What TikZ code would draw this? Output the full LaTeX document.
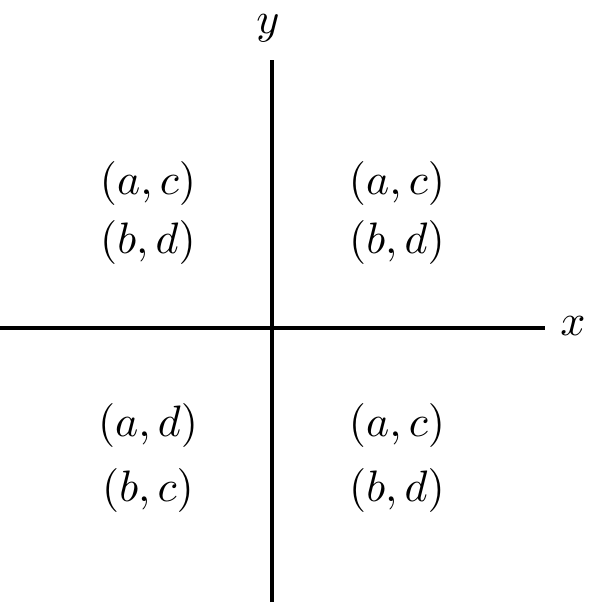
\documentclass[tikz,border=0pt]{standalone}
\begin{document}
\begin{tikzpicture}[x=0.25pt,y=-0.25pt,
  axis/.style={line width=0.8pt},
  lbl/.style={inner sep=0pt,scale=1.1}]
\useasboundingbox (0,0) rectangle (592,612);
\coordinate (xl) at (0,328);
\coordinate (xr) at (545,328);
\coordinate (yb) at (272,602);
\coordinate (yt) at (272,60);
\draw[axis] (xl) -- (xr);
\draw[axis] (yb) -- (yt);
\node[lbl] (xlab) at (573,326) {$x$};
\node[lbl] (ylab) at (268,28) {$y$};
\node[lbl] (q2a) at (148,183) {$(a,c)$};
\node[lbl] (q2b) at (148,242) {$(b,d)$};
\node[lbl] (q1a) at (397,183) {$(a,c)$};
\node[lbl] (q1b) at (397,242) {$(b,d)$};
\node[lbl] (q3a) at (148,425) {$(a,d)$};
\node[lbl] (q3b) at (148,490) {$(b,c)$};
\node[lbl] (q4a) at (397,425) {$(a,c)$};
\node[lbl] (q4b) at (397,490) {$(b,d)$};
\end{tikzpicture}
\end{document}
